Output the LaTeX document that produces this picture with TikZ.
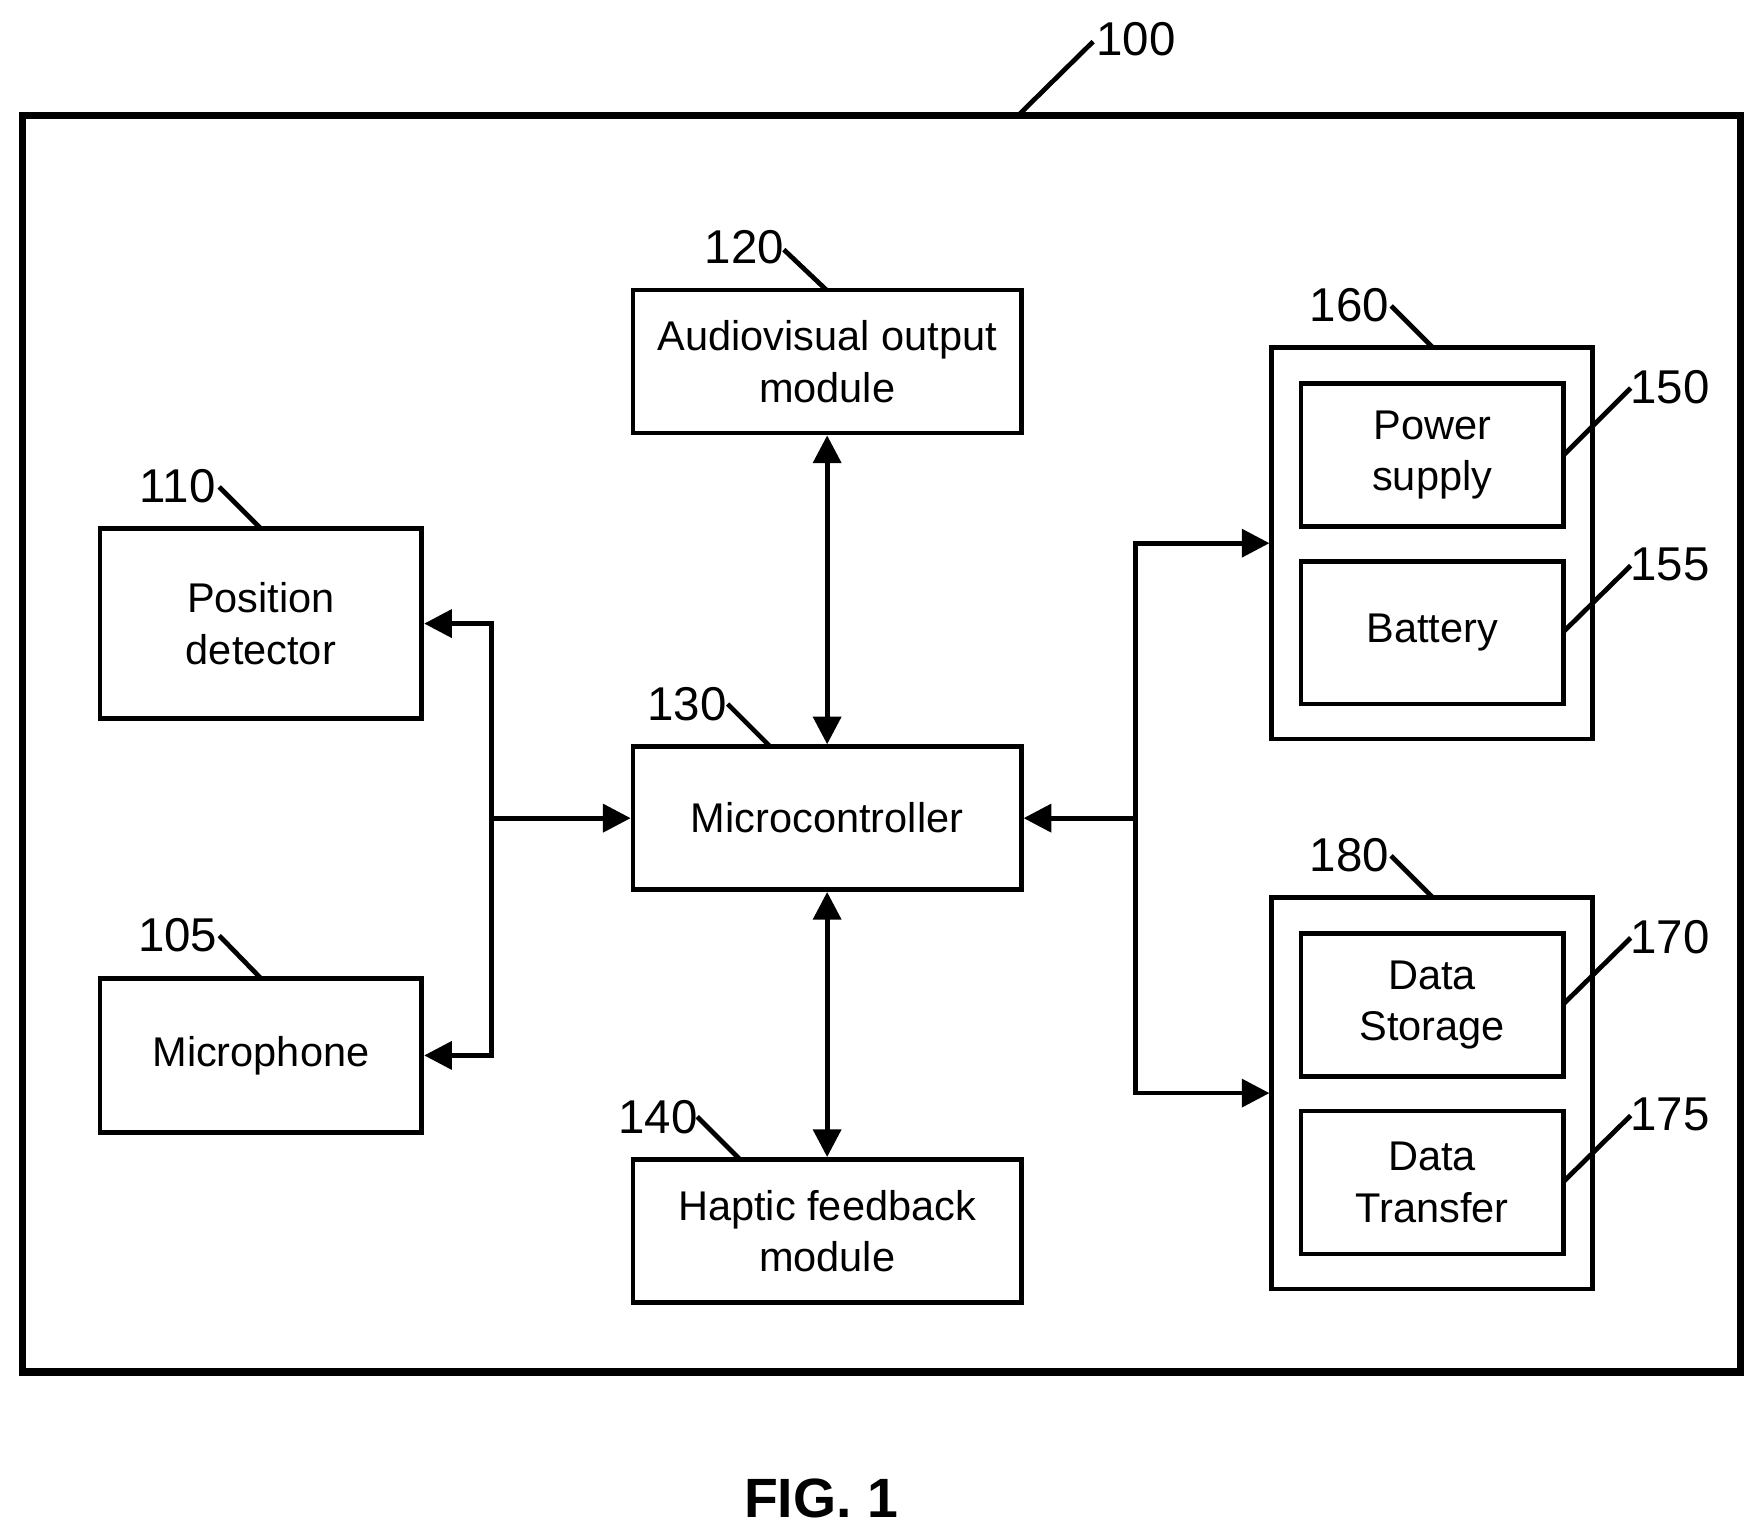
\documentclass[tikz,border=0pt]{standalone}
\usepackage{fontspec}
\setmainfont{Liberation Sans}
\usetikzlibrary{arrows.meta}

\begin{document}
\begin{tikzpicture}[x=0.01cm,y=-0.01cm,
    box/.style={draw,line width=1.2pt,align=center,inner sep=0pt,
      font=\fontsize{10.5}{13}\selectfont},
    num/.style={font=\fontsize{12}{14}\selectfont,inner sep=0pt},
    lead/.style={line width=1.2pt},
    link/.style={line width=1.2pt,-{Triangle[length=7pt,width=7pt]}},
    both/.style={line width=1.2pt,{Triangle[length=7pt,width=7pt]}-{Triangle[length=7pt,width=7pt]}}]
          \useasboundingbox (0,0) rectangle (1565,1367);

          \draw[line width=1.8pt] (20,103) rectangle (1548,1220);
          \node[num] (n100) at (1010,35) {100};
          \draw[lead] (905,103) -- (972,37);

          \node[box,minimum width=3.45cm,minimum height=1.27cm] (av) at (735.5,321.5) {Audiovisual output\\module};
          \node[box,minimum width=2.86cm,minimum height=1.69cm] (pos) at (232,554.5) {Position\\detector};
          \node[box,minimum width=2.86cm,minimum height=1.37cm] (mic) at (232,938.5) {Microphone};
          \node[box,minimum width=3.45cm,minimum height=1.27cm] (mcu) at (735.5,727.5) {Microcontroller};
          \node[box,minimum width=3.45cm,minimum height=1.27cm] (hap) at (735.5,1094.5) {Haptic feedback\\module};

          \node[box,minimum width=2.85cm,minimum height=3.48cm] (pwr) at (1273.5,483) {};
          \node[box,minimum width=2.33cm,minimum height=1.27cm] (ps) at (1273.5,404.5) {Power\\supply};
          \node[box,minimum width=2.33cm,minimum height=1.27cm] (bat) at (1273.5,562.5) {Battery};
          \node[box,minimum width=2.85cm,minimum height=3.48cm] (dat) at (1273.5,972) {};
          \node[box,minimum width=2.33cm,minimum height=1.27cm] (ds) at (1273.5,893.5) {Data\\Storage};
          \node[box,minimum width=2.33cm,minimum height=1.27cm] (dt) at (1273.5,1051.5) {Data\\Transfer};

          % reference numerals
          \node[num] (n120) at (662,220) {120};
          \node[num] (n110) at (158,432) {110};
          \node[num] (n105) at (158,832) {105};
          \node[num] (n130) at (611,626) {130};
          \node[num] (n140) at (585,993) {140};
          \node[num] (n160) at (1200,271) {160};
          \node[num] (n180) at (1200,760) {180};
          \node[num] (n150) at (1485,344) {150};
          \node[num] (n155) at (1485,502) {155};
          \node[num] (n170) at (1485,833) {170};
          \node[num] (n175) at (1485,991) {175};

          \draw[lead] (697,222) -- (735,258);
          \draw[lead] (195,433) -- (232,470);
          \draw[lead] (195,832) -- (232,870);
          \draw[lead] (647,626) -- (685,664);
          \draw[lead] (620,993) -- (658,1031);
          \draw[lead] (1237,272) -- (1274,309);
          \draw[lead] (1237,761) -- (1274,798);
          \draw[lead] (1390,405) -- (1450,345);
          \draw[lead] (1390,562) -- (1450,503);
          \draw[lead] (1390,893) -- (1450,834);
          \draw[lead] (1390,1051) -- (1450,992);

          % connectors
          \coordinate (lb) at (437,727.5);
          \coordinate (rb) at (1010,727.5);
          \draw[link] (lb) |- (pos.east);
          \draw[link] (lb) |- (mic.east);
          \draw[link] (lb) -- (mcu.west);
          \draw[link] (rb) |- (pwr.west);
          \draw[link] (rb) |- (dat.west);
          \draw[link] (rb) -- (mcu.east);
          \draw[both] (av.south) -- (mcu.north);
          \draw[both] (mcu.south) -- (hap.north);

          \node[font=\bfseries\fontsize{14}{16}\selectfont] (fig) at (730,1332) {FIG. 1};
\end{tikzpicture}
\end{document}
